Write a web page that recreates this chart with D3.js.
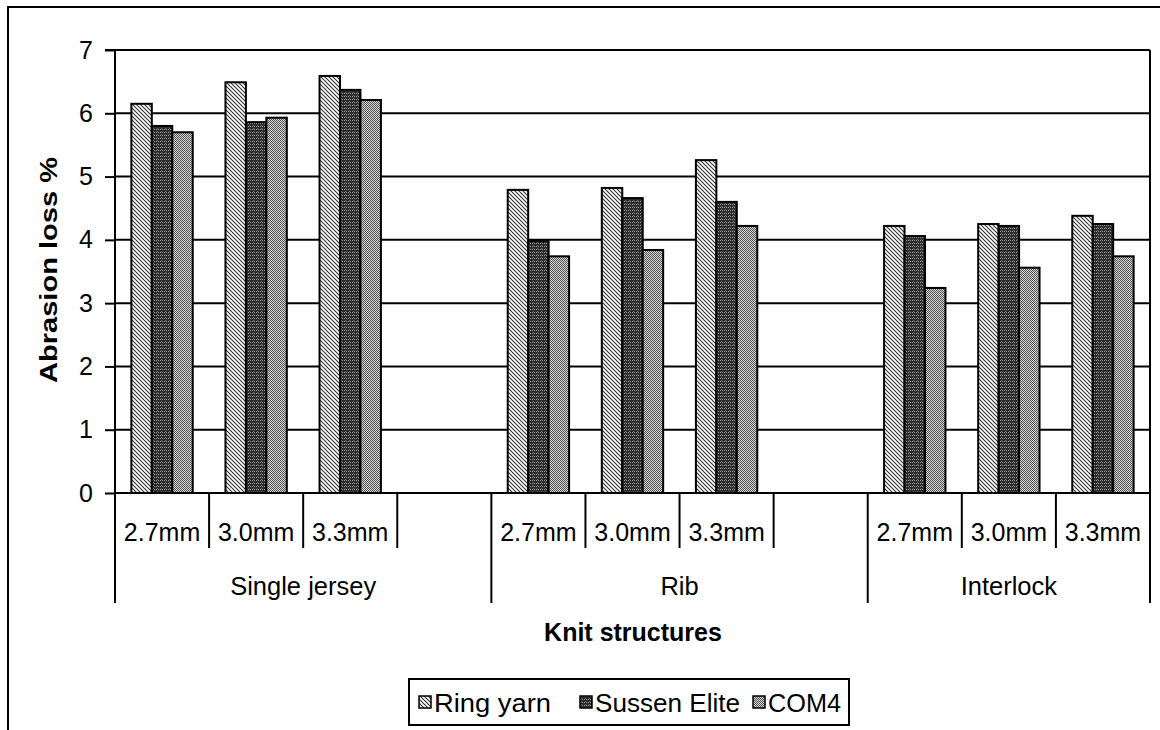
<!DOCTYPE html>
<html>
<head>
<meta charset="utf-8">
<script src="https://cdn.jsdelivr.net/npm/d3@7"></script>
<style>
  html, body { margin: 0; padding: 0; background: #fff; }
  svg { display: block; font-family: Arial, "Liberation Sans", sans-serif; }
</style>
</head>
<body>
<svg id="chart" width="1160" height="730"></svg>
<script>
// ---- data ----
const categories = ["2.7mm", "3.0mm", "3.3mm", "", "2.7mm", "3.0mm", "3.3mm", "", "2.7mm", "3.0mm", "3.3mm"];
const groupNames = ["Single jersey", "Rib", "Interlock"];
const groupSpans = [4, 4, 3];
const seriesNames = ["Ring yarn", "Sussen Elite", "COM4"];
const ringYarn    = [6.15, 6.49, 6.59, null, 4.79, 4.82, 5.26, null, 4.22, 4.25, 4.38];
const sussenElite = [5.80, 5.86, 6.37, null, 3.98, 4.66, 4.60, null, 4.06, 4.22, 4.25];
const com4        = [5.70, 5.93, 6.21, null, 3.74, 3.84, 4.22, null, 3.24, 3.56, 3.74];
const yTicks = [0, 1, 2, 3, 4, 5, 6, 7];
const yTitle = "Abrasion loss %";
const xTitle = "Knit structures";

const seriesValues = [ringYarn, sussenElite, com4];

// ---- layout ----
const svg = d3.select("#chart");
const pLeft = 115, pRight = 1150, pTop = 50, pBottom = 493;
const FS = 24;

// patterns
const defs = svg.append("defs");
const p1 = defs.append("pattern").attr("id", "pat0").attr("patternUnits", "userSpaceOnUse")
  .attr("width", 4).attr("height", 4);
p1.append("rect").attr("width", 4).attr("height", 4).attr("fill", "#fff");
p1.append("path").attr("d", "M0,0 L4,4 M-1,3 L1,5 M3,-1 L5,1")
  .attr("stroke", "#333").attr("stroke-width", 1.1);
const p2 = defs.append("pattern").attr("id", "pat1").attr("patternUnits", "userSpaceOnUse")
  .attr("width", 4).attr("height", 3);
p2.append("rect").attr("width", 4).attr("height", 3).attr("fill", "#2c2c2c");
p2.append("rect").attr("x", 0).attr("y", 0).attr("width", 1).attr("height", 1).attr("fill", "#9a9a9a");
p2.append("rect").attr("x", 2).attr("y", 0).attr("width", 1).attr("height", 1).attr("fill", "#9a9a9a");
p2.append("rect").attr("x", 1).attr("y", 2).attr("width", 1).attr("height", 1).attr("fill", "#666");
const p3 = defs.append("pattern").attr("id", "pat2").attr("patternUnits", "userSpaceOnUse")
  .attr("width", 2).attr("height", 2);
p3.append("rect").attr("width", 2).attr("height", 2).attr("fill", "#d4d4d4");
p3.append("rect").attr("x", 0).attr("y", 0).attr("width", 1).attr("height", 1).attr("fill", "#555");
p3.append("rect").attr("x", 1).attr("y", 1).attr("width", 1).attr("height", 1).attr("fill", "#555");

// outer frame
svg.append("rect").attr("x", 8).attr("y", 7).attr("width", 1160).attr("height", 740)
  .attr("fill", "#fff").attr("stroke", "#000").attr("stroke-width", 2);

const x = d3.scaleBand().domain(d3.range(categories.length)).range([pLeft, pRight]).paddingInner(0).paddingOuter(0);
const barW = x.bandwidth() / 4.6;
const xInner = d3.scaleBand().domain(d3.range(seriesNames.length))
  .range([(x.bandwidth() - 3 * barW) / 2, (x.bandwidth() + 3 * barW) / 2]);
const y = d3.scaleLinear().domain([0, 7]).range([pBottom, pTop]);

// gridlines
svg.append("g").selectAll("line").data(yTicks.filter(d => d > 0)).join("line")
  .attr("x1", pLeft).attr("x2", pRight).attr("y1", d => y(d)).attr("y2", d => y(d))
  .attr("stroke", "#000").attr("stroke-width", 2);
// right border of plot
svg.append("line").attr("x1", pRight).attr("x2", pRight).attr("y1", pTop).attr("y2", pBottom)
  .attr("stroke", "#000").attr("stroke-width", 2);

// bars
const gBars = svg.append("g");
seriesValues.forEach((vals, si) => {
  gBars.append("g").selectAll("rect")
    .data(vals.map((v, i) => ({ v, i })).filter(d => d.v != null))
    .join("rect")
    .attr("x", d => x(d.i) + xInner(si))
    .attr("width", xInner.bandwidth())
    .attr("y", d => y(d.v))
    .attr("height", d => y(0) - y(d.v))
    .attr("fill", `url(#pat${si})`)
    .attr("stroke", "#000").attr("stroke-width", 2);
});

// y axis
const yAxis = d3.axisLeft(y).tickValues(yTicks).tickSize(10).tickPadding(12).tickFormat(d3.format("d"));
const gy = svg.append("g").attr("transform", `translate(${pLeft},0)`).call(yAxis);
gy.select(".domain").attr("stroke", "#000").attr("stroke-width", 2).attr("d", `M-10,${pTop}H0V${pBottom}`);
gy.selectAll(".tick line").attr("stroke", "#000").attr("stroke-width", 2);
gy.selectAll(".tick text").attr("font-size", FS + 1).attr("fill", "#000")
  .attr("font-family", "Arial, 'Liberation Sans', sans-serif");

// x baseline
svg.append("line").attr("x1", pLeft).attr("x2", pRight).attr("y1", pBottom).attr("y2", pBottom)
  .attr("stroke", "#000").attr("stroke-width", 2);

// category ticks (boundaries)
const catBounds = d3.range(categories.length + 1);
const groupStarts = [0];
groupSpans.forEach((s, i) => groupStarts.push(groupStarts[i] + s));
svg.append("g").selectAll("line").data(catBounds).join("line")
  .attr("x1", i => i < categories.length ? x(i) : pRight)
  .attr("x2", i => i < categories.length ? x(i) : pRight)
  .attr("y1", pBottom)
  .attr("y2", i => groupStarts.includes(i) ? 603 : 548)
  .attr("stroke", "#000").attr("stroke-width", 2);

// category labels
svg.append("g").selectAll("text").data(categories.map((c, i) => ({ c, i }))).join("text")
  .attr("x", d => x(d.i) + x.bandwidth() / 2)
  .attr("y", 541)
  .attr("text-anchor", "middle")
  .attr("font-size", 25).attr("fill", "#000")
  .text(d => d.c);

// group labels
svg.append("g").selectAll("text").data(groupNames.map((g, i) => ({ g, i }))).join("text")
  .attr("x", d => {
    const a = x(groupStarts[d.i]);
    const b = groupStarts[d.i + 1] < categories.length ? x(groupStarts[d.i + 1]) : pRight;
    return (a + b) / 2;
  })
  .attr("y", 595)
  .attr("text-anchor", "middle")
  .attr("font-size", 25.5).attr("fill", "#000")
  .text(d => d.g);

// axis titles
svg.append("text").attr("x", 633).attr("y", 641)
  .attr("text-anchor", "middle").attr("font-size", 25).attr("font-weight", "bold")
  .text(xTitle);
svg.append("text").attr("transform", `translate(57,270) rotate(-90)`)
  .attr("text-anchor", "middle").attr("font-size", 24).attr("font-weight", "bold")
  .attr("textLength", 226).attr("lengthAdjust", "spacingAndGlyphs")
  .text(yTitle);

// legend
const lg = svg.append("g");
lg.append("rect").attr("x", 409).attr("y", 679).attr("width", 440).attr("height", 46)
  .attr("fill", "#fff").attr("stroke", "#000").attr("stroke-width", 2);
const legendX = [419, 580, 753];
const legendLen = [117, 145, 73];
seriesNames.forEach((s, i) => {
  lg.append("rect").attr("x", legendX[i]).attr("y", 696).attr("width", 12).attr("height", 12)
    .attr("fill", `url(#pat${i})`).attr("stroke", "#000").attr("stroke-width", 1.5);
  lg.append("text").attr("x", legendX[i] + 15).attr("y", 712)
    .attr("font-size", 25).attr("fill", "#000")
    .attr("textLength", legendLen[i]).attr("lengthAdjust", "spacingAndGlyphs")
    .text(s);
});
</script>
</body>
</html>
